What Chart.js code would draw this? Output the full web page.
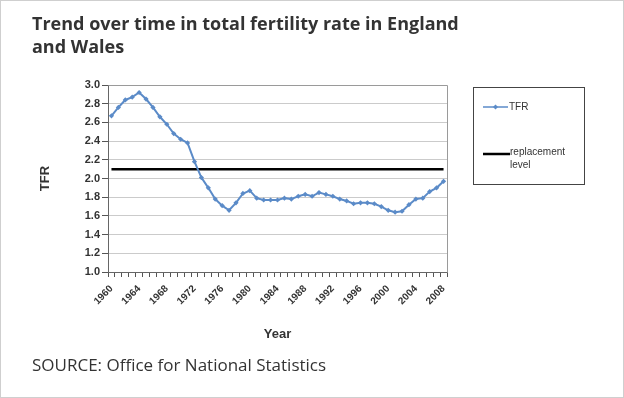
<!DOCTYPE html>
<html>
<head>
<meta charset="utf-8">
<script src="https://cdn.jsdelivr.net/npm/chart.js@4"></script>
<style>
  html, body { margin: 0; padding: 0; background: #fff; }
  #wrap { position: relative; width: 624px; height: 398px; box-sizing: border-box; border: 1px solid #cfcfcf; overflow: hidden; }
  #c { position: absolute; left: -1px; top: -1px; }
  .title { position: absolute; left: 31px; top: 11px; font-family: "Open Sans", sans-serif; font-weight: 700; font-size: 18px; line-height: 23px; color: #333; }
  .source { position: absolute; left: 31px; top: 352px; font-family: "Open Sans", sans-serif; font-size: 17px; color: #333; }
</style>
</head>
<body>
<div id="wrap">
  <canvas id="c" width="624" height="398"></canvas>
  <div class="title">Trend over time in total fertility rate in England<br>and Wales</div>
  <div class="source">SOURCE: Office for National Statistics</div>
</div>
<script>
const years = ['1960','1961','1962','1963','1964','1965','1966','1967','1968','1969','1970','1971',
  '1972','1973','1974','1975','1976','1977','1978','1979','1980','1981','1982','1983',
  '1984','1985','1986','1987','1988','1989','1990','1991','1992','1993','1994','1995',
  '1996','1997','1998','1999','2000','2001','2002','2003','2004','2005','2006','2007','2008'];
const tfr = [2.67,2.76,2.84,2.87,2.92,2.85,2.76,2.66,2.58,2.48,2.42,2.38,
  2.18,2.01,1.90,1.78,1.71,1.66,1.74,1.84,1.87,1.79,1.77,1.77,
  1.77,1.79,1.78,1.81,1.83,1.81,1.85,1.83,1.81,1.78,1.76,1.73,
  1.74,1.74,1.73,1.70,1.66,1.64,1.65,1.72,1.78,1.79,1.86,1.90,1.97];
const replacementLevel = 2.1;
const replacementSpan = ['1960','2008'];
const yTicks = ['1.0','1.2','1.4','1.6','1.8','2.0','2.2','2.4','2.6','2.8','3.0'];
const seriesNames = ['TFR','replacement level'];

const TFR_COLOR = '#5b8bc8';
const FONT = "'Liberation Sans', Arial, sans-serif";

const legendPlugin = {
  id: 'customLegend',
  afterDraw(chart) {
    const ctx = chart.ctx;
    const ca = chart.chartArea;
    ctx.save();
    ctx.strokeStyle = '#9a9a9a';
    ctx.lineWidth = 1;
    ctx.beginPath();
    ctx.moveTo(Math.round(ca.left) + 0.5, Math.round(ca.top) + 0.5);
    ctx.lineTo(Math.round(ca.right) + 0.5, Math.round(ca.top) + 0.5);
    ctx.lineTo(Math.round(ca.right) + 0.5, Math.round(ca.bottom) + 0.5);
    ctx.stroke();
    const bx = 473, by = 87, bw = 111, bh = 97;
    ctx.strokeStyle = '#444';
    ctx.strokeRect(bx + 0.5, by + 0.5, bw, bh);
    ctx.font = '10px ' + FONT;
    ctx.fillStyle = '#333';
    ctx.textBaseline = 'middle';
    ctx.textAlign = 'left';
    let y = 107;
    ctx.strokeStyle = TFR_COLOR;
    ctx.lineWidth = 1.5;
    ctx.beginPath(); ctx.moveTo(483, y); ctx.lineTo(508, y); ctx.stroke();
    ctx.fillStyle = TFR_COLOR;
    ctx.beginPath(); ctx.moveTo(495.5, y - 2.5); ctx.lineTo(498, y); ctx.lineTo(495.5, y + 2.5); ctx.lineTo(493, y); ctx.closePath(); ctx.fill();
    ctx.fillStyle = '#333';
    ctx.fillText(seriesNames[0], 509, y);
    y = 154;
    ctx.strokeStyle = '#000';
    ctx.lineWidth = 2.5;
    ctx.beginPath(); ctx.moveTo(483, y); ctx.lineTo(510, y); ctx.stroke();
    const words = seriesNames[1].split(' ');
    ctx.fillText(words[0], 510, y - 2);
    ctx.fillText(words.slice(1).join(' '), 510, y + 11);
    ctx.restore();
  }
};

new Chart(document.getElementById('c'), {
  type: 'line',
  data: {
    labels: years,
    datasets: [
      {
        label: seriesNames[0],
        data: tfr,
        borderColor: TFR_COLOR,
        backgroundColor: TFR_COLOR,
        borderWidth: 2,
        pointStyle: 'rectRot',
        pointRadius: 2.6,
        pointBorderWidth: 0,
        tension: 0
      },
      {
        label: seriesNames[1],
        data: replacementSpan.map(x => ({ x: x, y: replacementLevel })),
        borderColor: '#000',
        borderWidth: 2.5,
        pointRadius: 0,
        tension: 0
      }
    ]
  },
  options: {
    responsive: false,
    devicePixelRatio: 1,
    animation: false,
    layout: { padding: { left: 30, right: 177, top: 85, bottom: 56 } },
    plugins: { legend: { display: false }, tooltip: { enabled: false } },
    scales: {
      x: {
        type: 'category',
        offset: true,
        afterFit(s) { s.height = 70; },
        grid: { display: true, drawOnChartArea: false, offset: true, tickLength: 5, tickColor: '#555' },
        border: { color: '#666', width: 1 },
        ticks: {
          autoSkip: false, minRotation: 45, maxRotation: 45, padding: 6,
          color: '#333', font: { family: FONT, size: 10, weight: 'bold' },
          callback(v, i) { return i % 4 === 0 ? this.getLabelForValue(v) : ''; }
        },
        title: { display: true, text: 'Year', color: '#333', font: { family: FONT, size: 13, weight: 'bold' }, padding: { top: 0, bottom: 0 } }
      },
      y: {
        min: 1, max: 3,
        afterFit(s) { s.width = 78; },
        afterBuildTicks(s) { s.ticks = yTicks.map(t => ({ value: parseFloat(t) })); },
        grid: { color: '#cbcbcb', tickLength: 6, tickColor: '#555' },
        border: { color: '#666', width: 1 },
        ticks: {
          padding: 2, color: '#333', font: { family: FONT, size: 11, weight: 'bold' },
          callback(v) { return yTicks.find(t => Math.abs(parseFloat(t) - v) < 1e-6) || ''; }
        },
        title: { display: true, text: 'TFR', color: '#333', font: { family: FONT, size: 13, weight: 'bold' }, padding: { top: 8, bottom: 0 } }
      }
    }
  },
  plugins: [legendPlugin]
});
</script>
</body>
</html>
